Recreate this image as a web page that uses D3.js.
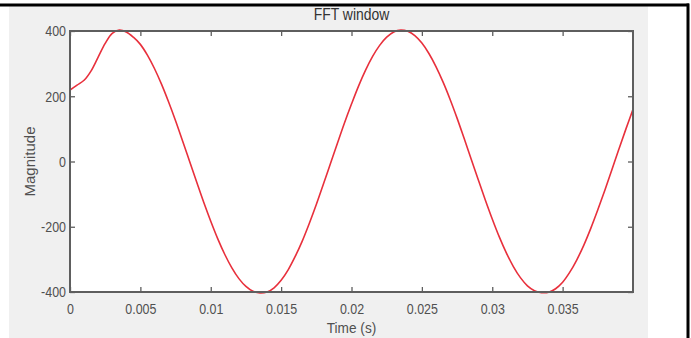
<!DOCTYPE html>
<html>
<head>
<meta charset="utf-8">
<script src="https://cdn.jsdelivr.net/npm/d3@7"></script>
<style>
body { margin: 0; background: #fff; }
text { font-family: "Liberation Sans", Arial, sans-serif; fill: #505050; }
</style>
</head>
<body>
<script>
var width = 691;
var height = 338;

// signal samples (time in s, magnitude)
var times = [0, 0.0005, 0.001, 0.0015, 0.002, 0.0025, 0.003, 0.0035, 0.004, 0.0045,
	0.005, 0.0055, 0.006, 0.0065, 0.007, 0.0075, 0.008, 0.0085, 0.009, 0.0095,
	0.01, 0.0105, 0.011, 0.0115, 0.012, 0.0125, 0.013, 0.0135, 0.014, 0.0145,
	0.015, 0.0155, 0.016, 0.0165, 0.017, 0.0175, 0.018, 0.0185, 0.019, 0.0195,
	0.02, 0.0205, 0.021, 0.0215, 0.022, 0.0225, 0.023, 0.0235, 0.024, 0.0245,
	0.025, 0.0255, 0.026, 0.0265, 0.027, 0.0275, 0.028, 0.0285, 0.029, 0.0295,
	0.03, 0.0305, 0.031, 0.0315, 0.032, 0.0325, 0.033, 0.0335, 0.034, 0.0345,
	0.035, 0.0355, 0.036, 0.0365, 0.037, 0.0375, 0.038, 0.0385, 0.039, 0.0395, 0.04];
var magnitude = [219, 234, 249, 278, 320, 362, 393, 403, 397, 381,
	359, 326, 285, 237, 183, 125, 63, 0, -63, -125,
	-183, -237, -285, -326, -359, -383, -398, -403, -400, -387,
	-364, -332, -291, -244, -190, -132, -70, -7, 56, 118,
	176, 231, 280, 322, 356, 381, 397, 403, 399, 386,
	363, 331, 291, 244, 191, 133, 71, 8, -55, -117,
	-176, -231, -280, -322, -356, -381, -396, -402, -401, -390,
	-370, -340, -302, -257, -205, -148, -88, -25, 38, 100, 160];

var xTicks = [0, 0.005, 0.01, 0.015, 0.02, 0.025, 0.03, 0.035];
var xTickLabels = ["0", "0.005", "0.01", "0.015", "0.02", "0.025", "0.03", "0.035"];
var yTicks = [-400, -200, 0, 200, 400];
var yTickLabels = ["-400", "-200", "0", "200", "400"];

var plot = {left: 70, top: 31, right: 633, bottom: 292};

var svg = d3.select("body").append("svg")
	.attr("width", width)
	.attr("height", height);

// figure background and frame
svg.append("rect").attr("x", 9).attr("y", 6).attr("width", 639).attr("height", 332).attr("fill", "#f0f0f0");
svg.append("line").attr("x1", 0).attr("x2", 689).attr("y1", 5).attr("y2", 5)
	.attr("stroke", "#000").attr("stroke-width", 3);
svg.append("line").attr("x1", 688).attr("x2", 688).attr("y1", 3.5).attr("y2", 338)
	.attr("stroke", "#000").attr("stroke-width", 3);

var x = d3.scaleLinear().domain([0, 0.04]).range([plot.left, plot.right]);
var y = d3.scaleLinear().domain([-400, 400]).range([plot.bottom, plot.top]);

svg.append("rect")
	.attr("x", plot.left).attr("y", plot.top)
	.attr("width", plot.right - plot.left).attr("height", plot.bottom - plot.top)
	.attr("fill", "#fff");

// the curve
svg.append("clipPath").attr("id", "clip").append("rect")
	.attr("x", plot.left).attr("y", plot.top - 2)
	.attr("width", plot.right - plot.left).attr("height", plot.bottom - plot.top + 4);

var line = d3.line()
	.x(function(d, i){ return x(times[i]); })
	.y(function(d){ return y(d); })
	.curve(d3.curveCatmullRom);

svg.append("path")
	.datum(magnitude)
	.attr("clip-path", "url(#clip)")
	.attr("fill", "none")
	.attr("stroke", "#e8303c")
	.attr("stroke-width", 1.6)
	.attr("d", line);

// axes (ticks point inward like matlab)
var axisColor = "#5e5e5e";
function styleAxis(g){
	g.select(".domain").remove();
	g.selectAll(".tick line").attr("stroke", axisColor).attr("stroke-width", 1.3);
}

var axBottom = svg.append("g")
	.attr("transform", "translate(0," + plot.bottom + ")")
	.call(d3.axisBottom(x).tickValues(xTicks).tickSize(-5).tickFormat(function(d, i){ return xTickLabels[i]; }));
styleAxis(axBottom);
axBottom.selectAll(".tick text")
	.attr("y", 0).attr("dy", null)
	.attr("transform", "translate(0,22) scale(0.83,1)")
	.style("font-size", "15px");

var axTop = svg.append("g")
	.attr("transform", "translate(0," + plot.top + ")")
	.call(d3.axisTop(x).tickValues(xTicks).tickSize(-5).tickFormat(""));
styleAxis(axTop);

var axLeft = svg.append("g")
	.attr("transform", "translate(" + plot.left + ",0)")
	.call(d3.axisLeft(y).tickValues(yTicks).tickSize(-5).tickFormat(function(d, i){ return yTickLabels[i]; }));
styleAxis(axLeft);
axLeft.selectAll(".tick text")
	.attr("x", 0)
	.attr("transform", "translate(-4,0) scale(0.83,1)")
	.style("font-size", "15px");

var axRight = svg.append("g")
	.attr("transform", "translate(" + plot.right + ",0)")
	.call(d3.axisRight(y).tickValues(yTicks).tickSize(-5).tickFormat(""));
styleAxis(axRight);

// box
svg.append("rect")
	.attr("x", plot.left).attr("y", plot.top)
	.attr("width", plot.right - plot.left).attr("height", plot.bottom - plot.top)
	.attr("fill", "none").attr("stroke", axisColor).attr("stroke-width", 2);

// labels
svg.append("text")
	.attr("transform", "translate(" + ((plot.left + plot.right) / 2) + ",20) scale(0.87,1)")
	.attr("text-anchor", "middle")
	.style("font-size", "16px").style("fill", "#333")
	.text("FFT window");

svg.append("text")
	.attr("transform", "translate(" + ((plot.left + plot.right) / 2) + ",333) scale(0.91,1)")
	.attr("text-anchor", "middle")
	.style("font-size", "15px")
	.text("Time (s)");

svg.append("text")
	.attr("transform", "translate(35," + ((plot.top + plot.bottom) / 2) + ") rotate(-90)")
	.attr("text-anchor", "middle")
	.style("font-size", "15px")
	.text("Magnitude");
</script>
</body>
</html>
